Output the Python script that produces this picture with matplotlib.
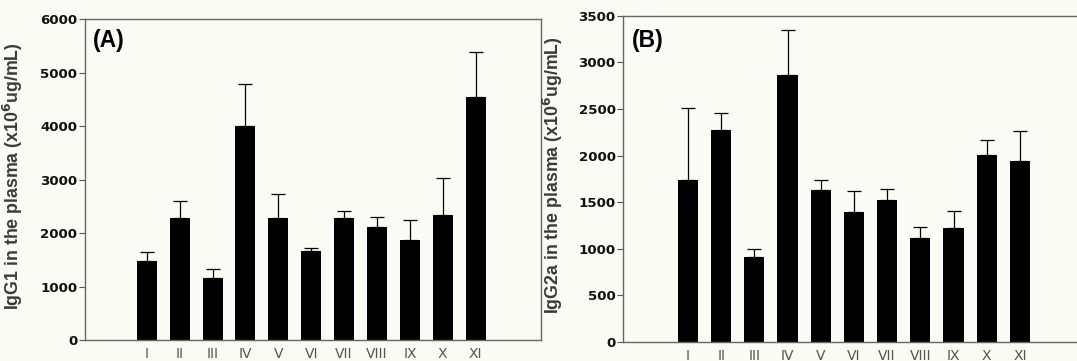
import matplotlib
matplotlib.use("Agg")
import matplotlib.pyplot as plt
import numpy as np

groups = ["I", "II", "III", "IV", "V", "VI", "VII", "VIII", "IX", "X", "XI"]

igg1_mean = [1470, 2280, 1165, 4000, 2290, 1665, 2275, 2105, 1875, 2340, 4540]
igg1_err = [175, 310, 165, 790, 435, 55, 140, 200, 370, 685, 850]

igg2a_mean = [1735, 2275, 915, 2865, 1635, 1390, 1520, 1120, 1220, 2010, 1940]
igg2a_err = [770, 185, 85, 480, 105, 230, 125, 110, 180, 160, 325]

igg1_ticks = [0, 1000, 2000, 3000, 4000, 5000, 6000]
igg2a_ticks = [0, 500, 1000, 1500, 2000, 2500, 3000, 3500]

bg = "#fbfbf5"
fig = plt.figure(figsize=(10.77, 3.61), dpi=100, facecolor=bg)

axA = fig.add_axes([0.0789, 0.0582, 0.5021 - 0.0789, 0.947 - 0.0582])
axB = fig.add_axes([0.5787, 0.0526, 1.0 - 0.5787, 0.9565 - 0.0526])


def draw(ax, means, errs, ticks, ylab, tag, xlim, right_spine, labx, tagy):
    x = np.arange(len(groups))
    ax.set_facecolor(bg)
    ax.bar(x, means, width=0.61, color="black", zorder=2)
    ax.errorbar(x, means, yerr=[np.zeros(len(errs)), errs], fmt="none",
                ecolor="black", elinewidth=0.9, capsize=5, capthick=0.9, zorder=1)
    ax.set_xlim(*xlim)
    ax.set_ylim(ticks[0], ticks[-1])
    ax.set_yticks(ticks)
    ax.set_yticklabels([str(t) for t in ticks], fontsize=9.6, fontweight="bold",
                       family="DejaVu Sans", color="#111111")
    ax.set_xticks(x)
    ax.set_xticklabels(groups, fontsize=10, color="#555555",
                       family="Liberation Sans Narrow")
    ax.tick_params(axis="x", length=0, pad=5)
    ax.tick_params(axis="y", length=4, width=0.8, color="#555555", pad=1.5)
    for s in ["top", "bottom", "left", "right"]:
        ax.spines[s].set_color("#666666")
        ax.spines[s].set_linewidth(1.0)
    ax.spines["right"].set_visible(right_spine)
    ax.set_ylabel(ylab, fontsize=12.8, fontweight="bold", color="#3a3a3a",
                  family="Liberation Sans")
    ax.yaxis.set_label_coords(labx, 0.51)
    ax.text(0.018, tagy, tag, transform=ax.transAxes, fontsize=16.5,
            fontweight="bold", va="top", ha="left", family="Liberation Sans")


draw(axA, igg1_mean, igg1_err, igg1_ticks,
     "IgG1 in the plasma (x10$^{\\mathbf{6}}$ug/mL)", "(A)", (-1.88, 11.98), True,
     -0.132, 0.97)
draw(axB, igg2a_mean, igg2a_err, igg2a_ticks,
     "IgG2a in the plasma (x10$^{\\mathbf{6}}$ug/mL)", "(B)", (-1.95, 11.72), False,
     -0.1285, 0.96)

fig.savefig("out.png", dpi=100, facecolor=bg)
